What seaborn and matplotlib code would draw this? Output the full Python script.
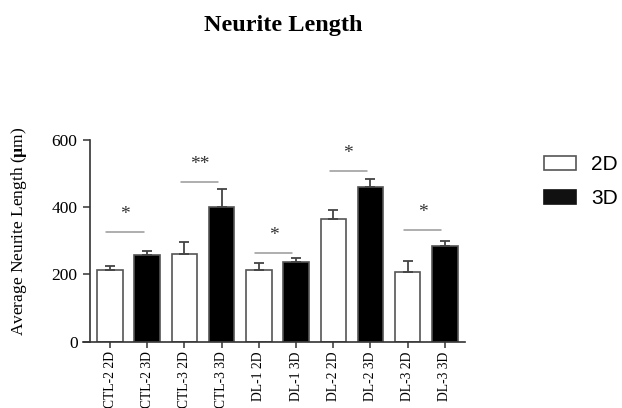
import numpy as np
import pandas as pd
import seaborn as sns

from matplotlib import pyplot as plt
from matplotlib.patches import Patch

# data
labels = ['CTL-2 2D', 'CTL-2 3D', 'CTL-3 2D', 'CTL-3 3D', 'DL-1 2D',
          'DL-1 3D', 'DL-2 2D', 'DL-2 3D', 'DL-3 2D', 'DL-3 3D']
culture = ['2D', '3D'] * 5
means = [212, 258, 260, 401, 212, 236, 366, 461, 206, 286]
errors = [14, 12, 36, 52, 22, 13, 27, 24, 33, 15]
sig_marks = ['*', '**', '*', '*', '*']
sig_heights = [326, 476, 265, 507, 333]

df = pd.DataFrame({'label': labels, 'culture': culture, 'mean': means})

sns.set_style('ticks')
plt.rcParams['font.family'] = ['Liberation Serif', 'DejaVu Serif']
plt.rcParams['mathtext.fontset'] = 'custom'
plt.rcParams['mathtext.rm'] = 'Liberation Serif'
plt.rcParams['mathtext.bf'] = 'Liberation Serif:bold'
plt.rcParams['text.color'] = 'black'
plt.rcParams['axes.labelcolor'] = 'black'

fig = plt.figure(figsize=(6.22, 4.08), dpi=100)
ax = fig.add_axes([83 / 622, 66.3 / 408, 382 / 622, 201.7 / 408])

palette = {'2D': 'white', '3D': 'black'}
sns.barplot(df, x='label', y='mean', hue='culture', palette=palette, dodge=False,
            width=0.686, edgecolor='#555555', linewidth=1.2, legend=False, ax=ax)

# one-sided error bars
x = np.arange(len(labels))
ax.errorbar(x, means, yerr=[np.zeros(len(errors)), errors], fmt='none',
            ecolor='#444444', elinewidth=1.3, capsize=3.8, capthick=1.3, zorder=1)

# significance lines and stars
for k, (mark, h) in enumerate(zip(sig_marks, sig_heights)):
    i = 2 * k
    ax.plot([i - 0.1, i + 0.9], [h, h], color='#999999', lw=1.1)
    ax.text(i + 0.4, h + 52, mark, ha='center', va='center', fontsize=14, color='#333333')

ax.set_xlim(-0.726, 9.54)
ax.set_ylim(0, 600)
ax.set_yticks([0, 200, 400, 600])
ax.set_xlabel('')
ax.set_ylabel(r'Average Neurite Length ($\mathbf{µ}$m)', fontsize=12.5)
ax.yaxis.set_label_coords(-0.142, 0.548)
ax.tick_params(axis='y', labelsize=12.5, length=5, width=1.1, color='#333333', pad=4,
               labelcolor='black')
ax.tick_params(axis='x', labelsize=9.8, length=4, width=1.1, color='#333333', pad=3,
               labelrotation=90, labelcolor='black')
for lab in ax.get_xticklabels():
    lab.set_va('top')

sns.despine(ax=ax)
ax.spines['left'].set_position(('axes', 7 / 382))
for side in ['left', 'bottom']:
    ax.spines[side].set_color('#333333')
    ax.spines[side].set_linewidth(1.2)

fig.text(283 / 622, 1 - 25 / 408, 'Neurite Length', ha='center', va='center',
         fontsize=17.5, fontweight='bold')

handles = [Patch(facecolor='white', edgecolor='#555555', lw=1.2, label='2D'),
           Patch(facecolor='#111111', edgecolor='#111111', lw=1.2, label='3D')]
fig.legend(handles=handles, loc='upper left', bbox_to_anchor=(544 / 622, 1 - 155 / 408),
           bbox_transform=fig.transFigure, frameon=False, borderpad=0, borderaxespad=0,
           handlelength=1.53, handleheight=0.67, handletextpad=0.75, labelspacing=0.72,
           prop={'family': 'Liberation Sans', 'size': 15})

fig.savefig('out.png', dpi=100)
